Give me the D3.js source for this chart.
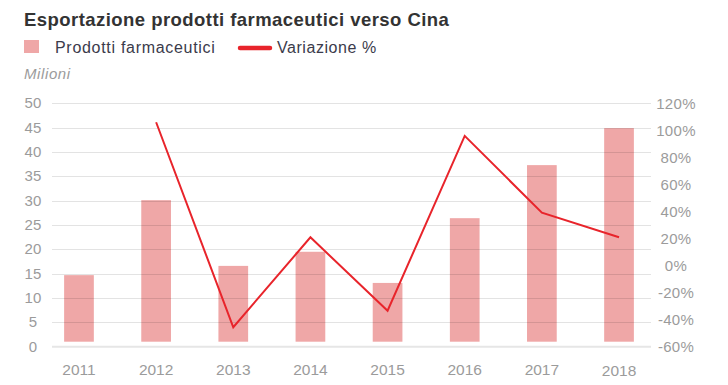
<!DOCTYPE html>
<html>
<head>
<meta charset="utf-8">
<script src="https://cdn.jsdelivr.net/npm/d3@7"></script>
<style>
  body { margin: 0; background: #fff; }
  svg text { font-family: "Liberation Sans", Arial, sans-serif; }
</style>
</head>
<body>
<div id="chart"></div>
<script>
const years = ["2011", "2012", "2013", "2014", "2015", "2016", "2017", "2018"];
const exportValues = [14.7, 30.1, 16.6, 19.5, 13.1, 26.4, 37.3, 44.9];
const changeYears = ["2012", "2013", "2014", "2015", "2016", "2017", "2018"];
const changeValues = [106, -45.6, 20.9, -33.4, 95.9, 39.1, 20.9];
const leftTicks = [0, 5, 10, 15, 20, 25, 30, 35, 40, 45, 50];
const rightTicks = [-60, -40, -20, 0, 20, 40, 60, 80, 100, 120];

const width = 728;
const height = 385;

const svg = d3
  .select("#chart")
  .append("svg")
  .attr("width", width)
  .attr("height", height);

const x = d3
  .scaleBand()
  .domain(years)
  .range([40.4, 657.6])
  .paddingInner(0.615)
  .paddingOuter(0.3075);

const yLeft = d3.scaleLinear().domain([0, 50]).range([346.7, 103.3]);
const yRight = d3.scaleLinear().domain([-60, 120]).range([346.7, 103.3]);

// bars
svg
  .append("g")
  .selectAll("rect")
  .data(years)
  .enter()
  .append("rect")
  .attr("x", (d) => x(d))
  .attr("y", (d, i) => yLeft(exportValues[i]))
  .attr("width", x.bandwidth())
  .attr("height", (d, i) => yLeft(0) - 5 - yLeft(exportValues[i]))
  .attr("fill", "#efa7a7");

// grid lines on top of the bars
svg
  .append("g")
  .selectAll("line")
  .data(leftTicks.filter((t) => t > 0))
  .enter()
  .append("line")
  .attr("x1", 52)
  .attr("x2", 651)
  .attr("y1", (d) => Math.round(yLeft(d)) + 0.5)
  .attr("y2", (d) => Math.round(yLeft(d)) + 0.5)
  .attr("stroke", "rgba(0,0,0,0.11)")
  .attr("stroke-width", 1.2);

svg
  .append("line")
  .attr("x1", 52)
  .attr("x2", 651)
  .attr("y1", yLeft(0))
  .attr("y2", yLeft(0))
  .attr("stroke", "#e6e6e6")
  .attr("stroke-width", 2);

// left axis labels
svg
  .append("g")
  .selectAll("text")
  .data(leftTicks)
  .enter()
  .append("text")
  .attr("x", 33)
  .attr("y", (d) => yLeft(d))
  .attr("dy", "0.33em")
  .attr("text-anchor", "middle")
  .attr("font-size", 15)
  .attr("letter-spacing", 0.2)
  .attr("fill", "#9b9b9b")
  .text((d) => d);

// right axis labels
svg
  .append("g")
  .selectAll("text")
  .data(rightTicks)
  .enter()
  .append("text")
  .attr("x", 676)
  .attr("y", (d) => yRight(d))
  .attr("dy", "0.35em")
  .attr("text-anchor", "middle")
  .attr("font-size", 15)
  .attr("letter-spacing", 0.3)
  .attr("fill", "#9b9b9b")
  .text((d) => d + "%");

// x axis labels
svg
  .append("g")
  .selectAll("text")
  .data(years)
  .enter()
  .append("text")
  .attr("x", (d) => x(d) + x.bandwidth() / 2)
  .attr("y", (d) => (d === "2018" ? 375.5 : 374.5))
  .attr("text-anchor", "middle")
  .attr("font-size", 15.5)
  .attr("fill", "#9b9b9b")
  .text((d) => d);

// variation line
const line = d3
  .line()
  .x((d) => x(d.year) + x.bandwidth() / 2)
  .y((d) => yRight(d.value));

svg
  .append("path")
  .datum(changeYears.map((year, i) => ({ year, value: changeValues[i] })))
  .attr("d", line)
  .attr("fill", "none")
  .attr("stroke", "#e8242b")
  .attr("stroke-width", 2);

// title and legend
svg
  .append("text")
  .attr("x", 24)
  .attr("y", 26)
  .attr("font-size", 18.5)
  .attr("font-weight", "bold")
  .attr("letter-spacing", 0.45)
  .attr("fill", "#333")
  .text("Esportazione prodotti farmaceutici verso Cina");

svg
  .append("rect")
  .attr("x", 24)
  .attr("y", 40)
  .attr("width", 15)
  .attr("height", 13)
  .attr("fill", "#efa7a7");

svg
  .append("text")
  .attr("x", 55)
  .attr("y", 52.7)
  .attr("font-size", 16)
  .attr("letter-spacing", 0.7)
  .attr("fill", "#3b3b4b")
  .text("Prodotti farmaceutici");

svg
  .append("line")
  .attr("x1", 240)
  .attr("x2", 270)
  .attr("y1", 48)
  .attr("y2", 48)
  .attr("stroke", "#e8242b")
  .attr("stroke-width", 4.5)
  .attr("stroke-linecap", "round");

svg
  .append("text")
  .attr("x", 277)
  .attr("y", 52.7)
  .attr("font-size", 16)
  .attr("letter-spacing", 0.55)
  .attr("fill", "#3b3b4b")
  .text("Variazione %");

svg
  .append("text")
  .attr("x", 24)
  .attr("y", 79)
  .attr("font-size", 15)
  .attr("font-style", "italic")
  .attr("letter-spacing", 0.6)
  .attr("fill", "#9b9b9b")
  .text("Milioni");
</script>
</body>
</html>
